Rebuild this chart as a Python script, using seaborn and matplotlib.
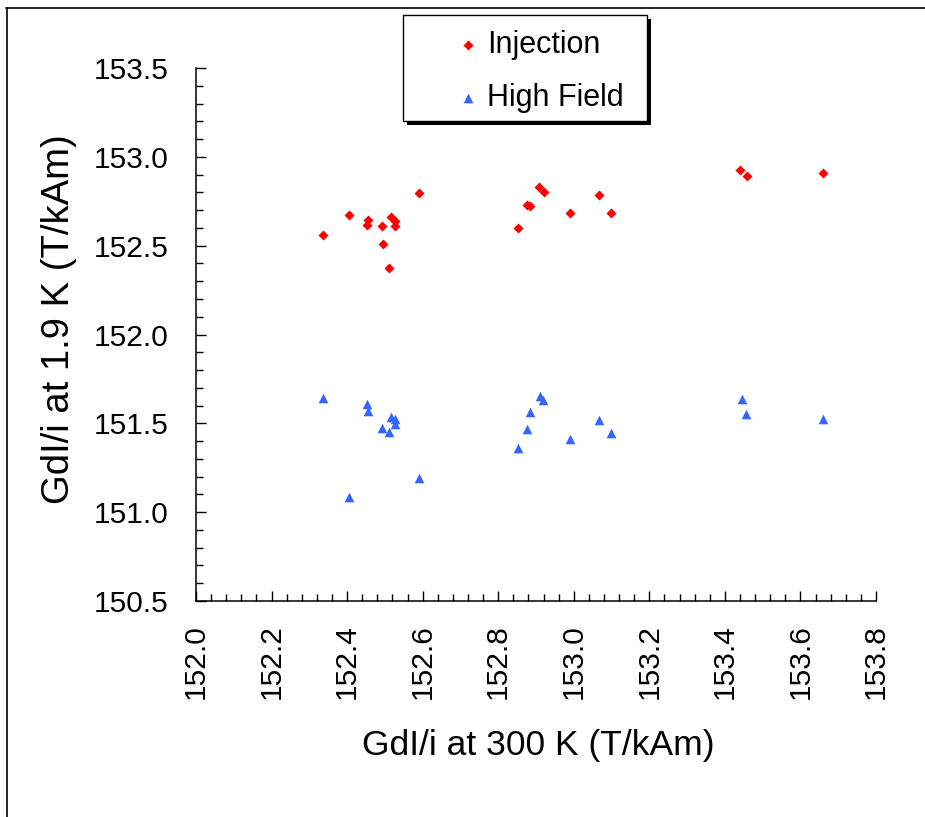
import matplotlib
matplotlib.use("Agg")
import matplotlib.pyplot as plt
from matplotlib.lines import Line2D
from matplotlib.patches import Rectangle
from matplotlib.ticker import MultipleLocator, FormatStrFormatter
import seaborn as sns
import pandas as pd

# ---- data ----
x_injection = [152.336, 152.406, 152.456, 152.452, 152.492, 152.496, 152.511, 152.516,
               152.527, 152.527, 152.591, 152.853, 152.876, 152.885, 152.907, 152.920,
               152.989, 153.068, 153.099, 153.441, 153.459, 153.659]
y_injection = [152.560, 152.675, 152.645, 152.615, 152.608, 152.508, 152.376, 152.662,
               152.639, 152.608, 152.794, 152.598, 152.728, 152.724, 152.828, 152.803,
               152.684, 152.784, 152.684, 152.927, 152.893, 152.910]
x_highfield = [152.336, 152.452, 152.456, 152.492, 152.516, 152.528, 152.528, 152.511,
               152.591, 152.406, 152.911, 152.918, 152.885, 152.876, 152.853, 152.989,
               153.068, 153.099, 153.444, 153.456, 153.659]
y_highfield = [151.643, 151.611, 151.568, 151.474, 151.534, 151.527, 151.497, 151.452,
               151.192, 151.085, 151.652, 151.634, 151.562, 151.468, 151.361, 151.412,
               151.521, 151.446, 151.638, 151.555, 151.527]
series_labels = ["Injection", "High Field"]
x_label = "GdI/i at 300 K (T/kAm)"
y_label = "GdI/i at 1.9 K (T/kAm)"

sns.set_style("white")
plt.rcParams["font.family"] = ["Liberation Sans", "DejaVu Sans"]
plt.rcParams["text.color"] = "black"
plt.rcParams["axes.labelcolor"] = "black"
plt.rcParams["xtick.color"] = "black"
plt.rcParams["ytick.color"] = "black"

W, H = 925, 817
fig = plt.figure(figsize=(W / 100, H / 100), dpi=100)

def fx(px):
    return px / W

def fy(py):
    return 1 - py / H

ax = fig.add_axes([fx(196), fy(601), fx(876) - fx(196), fy(68) - fy(601)])

df_inj = pd.DataFrame({"x": x_injection, "y": y_injection})
df_hf = pd.DataFrame({"x": x_highfield, "y": y_highfield})

sns.scatterplot(data=df_inj, x="x", y="y", ax=ax, marker="D", color="#FF0000",
                s=26, linewidth=0, label=series_labels[0], legend=False, zorder=3)
sns.scatterplot(data=df_hf, x="x", y="y", ax=ax, marker="^", color="#3366FF",
                s=48, linewidth=0, label=series_labels[1], legend=False, zorder=3)

ax.set_xlim(152.0, 153.8)
ax.set_ylim(150.5, 153.5)
ax.xaxis.set_major_locator(MultipleLocator(0.2))
ax.xaxis.set_minor_locator(MultipleLocator(0.04))
ax.yaxis.set_major_locator(MultipleLocator(0.5))
ax.yaxis.set_minor_locator(MultipleLocator(0.1))
ax.xaxis.set_major_formatter(FormatStrFormatter("%.1f"))
ax.yaxis.set_major_formatter(FormatStrFormatter("%.1f"))

for s in ["top", "right"]:
    ax.spines[s].set_visible(False)
for s in ["left", "bottom"]:
    ax.spines[s].set_color("black")
    ax.spines[s].set_linewidth(1.1)

ax.tick_params(axis="both", which="both", direction="in", color="black",
               labelcolor="black", bottom=True, left=True, width=1.0)
ax.tick_params(axis="both", which="major", length=7, labelsize=21.5, pad=20)
ax.tick_params(axis="both", which="minor", length=5)
ax.tick_params(axis="x", which="major", labelrotation=90, pad=17)

ax.set_xlabel("")
ax.set_ylabel("")
fig.text(fx(538), fy(745), x_label, ha="center", va="center", fontsize=25.5,
         color="black")
fig.text(fx(59), fy(319), y_label, ha="center", va="center", fontsize=27.5,
         rotation=90, color="black")

# legend box with shadow
shadow = Rectangle((fx(407), fy(125)), fx(647) - fx(403), fy(15) - fy(121),
                   transform=fig.transFigure, facecolor="black", edgecolor="none", zorder=1)
box = Rectangle((fx(403), fy(121)), fx(647) - fx(403), fy(15) - fy(121),
                transform=fig.transFigure, facecolor="white", edgecolor="black",
                linewidth=1.0, zorder=2)
fig.patches.extend([shadow, box])

handles, labels = ax.get_legend_handles_labels()
leg = fig.legend(handles, labels, loc="upper left",
                 bbox_to_anchor=(fx(453), fy(30)), frameon=False, borderpad=0,
                 handlelength=1.0, handletextpad=0.12, labelspacing=0.75,
                 fontsize=22, borderaxespad=0, scatterpoints=1, labelcolor="black")
leg.set_zorder(5)

# figure border (top and left)
fig.add_artist(Line2D([fx(6), 1.0], [fy(8), fy(8)], transform=fig.transFigure,
                      color="black", linewidth=1.2))
fig.add_artist(Line2D([fx(7), fx(7)], [fy(8), 0.0], transform=fig.transFigure,
                      color="black", linewidth=1.2))

fig.savefig("out.png", dpi=100)
